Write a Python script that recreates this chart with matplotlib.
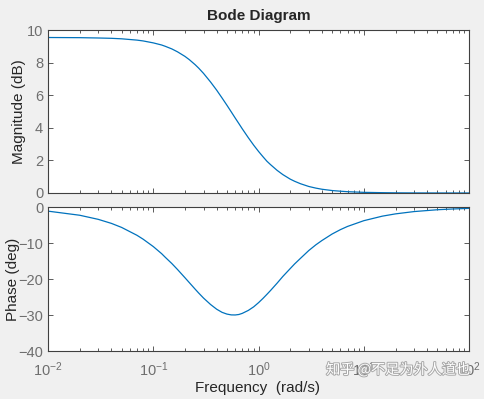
import matplotlib
matplotlib.use("Agg")
import matplotlib.pyplot as plt
import matplotlib.patheffects as pe
from matplotlib.ticker import LogLocator, NullFormatter

# frequency points (rad/s) and values
freq = [0.01, 0.02, 0.03, 0.04, 0.05, 0.07, 0.08, 0.1, 0.12, 0.13, 0.15, 0.17, 0.2, 0.22,
        0.25, 0.27, 0.3, 0.35, 0.4, 0.45, 0.5, 0.55, 0.6, 0.65, 0.7, 0.8, 0.9, 1.0, 1.1,
        1.2, 1.3, 1.5, 1.7, 2.0, 2.2, 2.5, 3.0, 3.5, 4.0, 5.0, 6.0, 7.0, 10.0, 15.0, 20.0,
        30.0, 50.0, 70.0, 100.0]
mag_db = [9.54, 9.53, 9.51, 9.49, 9.46, 9.38, 9.33, 9.21, 9.08, 9.00, 8.84, 8.66, 8.38, 8.18,
          7.87, 7.66, 7.34, 6.81, 6.31, 5.83, 5.39, 4.98, 4.60, 4.26, 3.94, 3.39, 2.93, 2.55, 2.23,
          1.95, 1.74, 1.39, 1.13, 0.85, 0.72, 0.57, 0.40, 0.30, 0.23, 0.15, 0.11, 0.08, 0.04, 0.02, 0.01,
          0.004, 0.0015, 0.0008, 0.0004]
phase_deg = [-1.15, -2.29, -3.43, -4.55, -5.67, -7.86, -8.93, -10.99, -12.96, -13.97, -15.70, -17.37, -19.65, -21.01,
             -22.83, -23.90, -25.29, -27.08, -28.39, -29.26, -29.74, -29.97, -29.99, -29.86, -29.55, -28.72, -27.72, -26.57, -25.41,
             -24.27, -23.19, -21.16, -19.30, -17.10, -15.82, -14.27, -12.09, -10.51, -9.31, -7.50, -6.28, -5.40, -3.80, -2.54, -1.91,
             -1.27, -0.76, -0.55, -0.38]

plt.rcParams['font.family'] = ['Liberation Sans', 'DejaVu Sans']

bg = '#f0f0f0'
axcol = '#404040'
tickcol = '#6e6e6e'
linecol = '#0072bd'

fig = plt.figure(figsize=(4.84, 3.99), dpi=100, facecolor=bg)
ax1 = fig.add_axes([0.0992, 0.5163, 0.870, 0.4085])
ax2 = fig.add_axes([0.0992, 0.1203, 0.870, 0.3609])

ax1.plot(freq, mag_db, color=linecol, linewidth=0.9)
ax2.plot(freq, phase_deg, color=linecol, linewidth=0.9)

for ax in (ax1, ax2):
    ax.set_xscale('log')
    ax.set_xlim(0.01, 100)
    ax.xaxis.set_major_locator(LogLocator(base=10, numticks=10))
    ax.xaxis.set_minor_locator(LogLocator(base=10, subs=range(2, 10), numticks=100))
    ax.xaxis.set_minor_formatter(NullFormatter())
    ax.tick_params(which='both', direction='in', top=True, right=True,
                   colors=axcol, labelcolor=tickcol, labelsize=10.5, width=0.6)
    ax.tick_params(which='major', length=3.5)
    ax.tick_params(which='minor', length=2)
    ax.tick_params(axis='x', pad=7)
    for s in ax.spines.values():
        s.set_color(axcol)
        s.set_linewidth(0.8)

ax1.set_ylim(0, 10)
ax1.set_yticks([0, 2, 4, 6, 8, 10])
ax1.tick_params(labelbottom=False)
ax2.set_ylim(-40, 0)
ax2.set_yticks([-40, -30, -20, -10, 0])

ax1.set_ylabel('Magnitude (dB)', fontsize=11, color='#262626')
ax1.yaxis.set_label_coords(-0.052, 0.5)
ax2.set_ylabel('Phase (deg)', fontsize=11, color='#262626')
ax2.yaxis.set_label_coords(-0.067, 0.5)
ax1.set_title('Bode Diagram', fontsize=11, fontweight='bold', color='#262626', pad=7)
fig.text(0.533, 0.028, 'Frequency  (rad/s)', ha='center', va='center',
         fontsize=11, color='#262626')

fig.text(0.822, 0.073, '知乎 @不足为外人道也', ha='center', va='center', fontsize=10.2,
         family=['Noto Sans CJK SC', 'DejaVu Sans'], color='white',
         path_effects=[pe.withStroke(linewidth=1.4, foreground='#a8a8a8')])

fig.savefig('out.png', dpi=100, facecolor=bg)
